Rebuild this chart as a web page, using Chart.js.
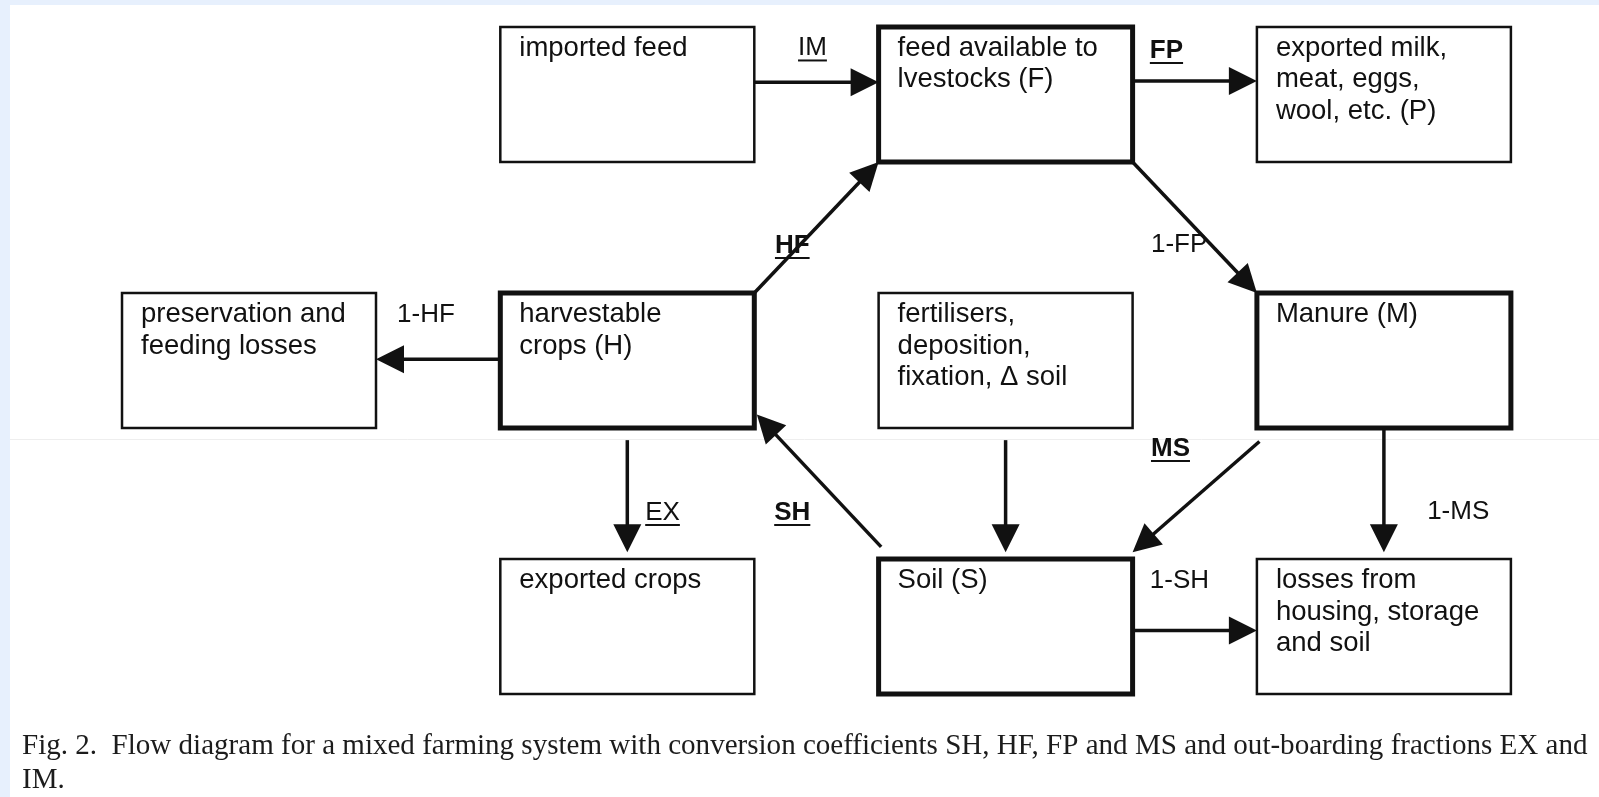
<!DOCTYPE html>
<html>
<head>
<meta charset="utf-8">
<title>Flow diagram for a mixed farming system</title>
<script src="https://cdn.jsdelivr.net/npm/chart.js@4.4.0/dist/chart.umd.min.js"></script>
<style>
    html, body { margin: 0; padding: 0; background: #e7f0fd; overflow: hidden; }
    #wrap { position: absolute; left: 10px; top: 5px; width: 1589px; height: 792px; background: #fff; }
    canvas { display: block; }
</style>
</head>
<body>
<div id="wrap"><canvas id="flowChart" width="1589" height="792"></canvas></div>
<script>
// Boxes of the diagram, placed on a grid (column / row)
const nodeLabels = [
    ['imported feed'],
    ['feed available to', 'lvestocks (F)'],
    ['exported milk,', 'meat, eggs,', 'wool, etc. (P)'],
    ['preservation and', 'feeding losses'],
    ['harvestable', 'crops (H)'],
    ['fertilisers,', 'deposition,', 'fixation, \u0394 soil'],
    ['Manure (M)'],
    ['exported crops'],
    ['Soil (S)'],
    ['losses from', 'housing, storage', 'and soil']
];
const nodeCols = [1, 2, 3, 0, 1, 2, 3, 1, 2, 3];
const nodeRows = [0, 0, 0, 1, 1, 1, 1, 2, 2, 2];
const poolNodes = [1, 4, 6, 8]; // F, H, M, S

// Flows between the boxes
const flowFrom   = [0, 1, 4, 1, 4, 4, 5, 6, 6, 8, 8];
const flowTo     = [1, 2, 1, 6, 3, 7, 8, 9, 8, 4, 9];
const flowLabels = ['IM', 'FP', 'HF', '1-FP', '1-HF', 'EX', '', '1-MS', 'MS', 'SH', '1-SH'];
const conversionCoefs = ['SH', 'HF', 'FP', 'MS'];
const outboardFractions = ['EX', 'IM'];

const captionLines = [
    'Fig. 2.  Flow diagram for a mixed farming system with conversion coefficients SH, HF, FP and MS and out-boarding fractions EX and',
    'IM.'
];

// Layout: where each arrow leaves / enters its box (fractions of the box)
const flowStart = [[1, 0.41], [1, 0.40], [1, 0], [1, 1], [0, 0.49], [0.5, 1.09], [0.5, 1.09], [0.5, 1], [0.01, 1.10], [0.01, -0.09], [1, 0.53]];
const flowEnd   = [[0, 0.41], [0, 0.40], [0, 1], [0, 0], [1, 0.49], [0.5, -0.05], [0.5, -0.05], [0.5, -0.05], [1, -0.05], [1.01, 0.9], [0, 0.53]];
// label anchors in grid units (left, baseline)
const labelAt = [[1.787, 0.107], [2.717, 0.117], [1.726, 0.850], [2.720, 0.846], [0.727, 1.109], [1.383, 1.853], null, [3.450, 1.850], [2.720, 1.613], [1.724, 1.853], [2.717, 2.109]];

const BOX_W = 0.6714;
const BOX_H = 0.5075;
const INK = '#111';
const SANS = '"Liberation Sans", Arial, sans-serif';

function drawArrow(ctx, x1, y1, x2, y2) {
    const ang = Math.atan2(y2 - y1, x2 - x1);
    const headLen = 28, headHalf = 14;
    ctx.lineWidth = 3.5;
    ctx.beginPath();
    ctx.moveTo(x1, y1);
    ctx.lineTo(x2 - Math.cos(ang) * headLen * 0.8, y2 - Math.sin(ang) * headLen * 0.8);
    ctx.stroke();
    ctx.beginPath();
    ctx.moveTo(x2, y2);
    ctx.lineTo(x2 - Math.cos(ang) * headLen - Math.sin(ang) * headHalf, y2 - Math.sin(ang) * headLen + Math.cos(ang) * headHalf);
    ctx.lineTo(x2 - Math.cos(ang) * headLen + Math.sin(ang) * headHalf, y2 - Math.sin(ang) * headLen - Math.cos(ang) * headHalf);
    ctx.closePath();
    ctx.fill();
}

const diagramPlugin = {
    id: 'diagram',
    afterDatasetsDraw(chart) {
        const ctx = chart.ctx;
        const xs = chart.scales.x, ys = chart.scales.y;
        const px = v => xs.getPixelForValue(v);
        const py = v => ys.getPixelForValue(v);
        const anchor = (i, f) => [px(nodeCols[i] + f[0] * BOX_W), py(nodeRows[i] + f[1] * BOX_H)];

        ctx.save();

        // faint scan seam across the page
        ctx.strokeStyle = '#eeeeee';
        ctx.lineWidth = 1;
        ctx.beginPath();
        ctx.moveTo(0, 434.5);
        ctx.lineTo(chart.width, 434.5);
        ctx.stroke();

        ctx.strokeStyle = INK;
        ctx.fillStyle = INK;

        // boxes + their texts
        nodeLabels.forEach((lines, i) => {
            const x0 = px(nodeCols[i]), x1 = px(nodeCols[i] + BOX_W);
            const y0 = py(nodeRows[i]), y1 = py(nodeRows[i] + BOX_H);
            ctx.lineWidth = poolNodes.includes(i) ? 5 : 2.5;
            ctx.strokeRect(x0, y0, x1 - x0, y1 - y0);
            ctx.font = '27.5px ' + SANS;
            ctx.textBaseline = 'alphabetic';
            ctx.textAlign = 'left';
            lines.forEach((t, k) => ctx.fillText(t, x0 + 19, y0 + 29 + k * 31.5));
        });

        // arrows
        flowFrom.forEach((from, i) => {
            const [sx, sy] = anchor(from, flowStart[i]);
            const [ex, ey] = anchor(flowTo[i], flowEnd[i]);
            drawArrow(ctx, sx, sy, ex, ey);
        });

        // flow labels
        flowLabels.forEach((lbl, i) => {
            if (!lbl || !labelAt[i]) return;
            const bold = conversionCoefs.includes(lbl);
            const under = bold || outboardFractions.includes(lbl);
            ctx.font = (bold ? 'bold ' : '') + '26px ' + SANS;
            const lx = px(labelAt[i][0]), ly = py(labelAt[i][1]);
            ctx.fillText(lbl, lx, ly);
            if (under) {
                const w = ctx.measureText(lbl).width;
                ctx.lineWidth = 2;
                ctx.beginPath();
                ctx.moveTo(lx, ly + 5);
                ctx.lineTo(lx + w, ly + 5);
                ctx.stroke();
            }
        });

        // caption, fitted to the page width
        ctx.font = '24px "Liberation Serif", "Times New Roman", serif';
        const size = 24 * 1566 / ctx.measureText(captionLines[0]).width;
        ctx.font = size.toFixed(2) + 'px "Liberation Serif", "Times New Roman", serif';
        ctx.fillStyle = '#1c1c1c';
        captionLines.forEach((t, k) => ctx.fillText(t, 12, 749 + k * 34));
        ctx.restore();
    }
};

const ctx = document.getElementById('flowChart').getContext('2d');
window.flowChart = new Chart(ctx, {
    type: 'scatter',
    data: {
        datasets: [{
            data: nodeCols.map((c, i) => ({ x: c + BOX_W / 2, y: nodeRows[i] + BOX_H / 2 })),
            pointRadius: 0
        }]
    },
    options: {
        responsive: false,
        animation: false,
        layout: { padding: 0 },
        plugins: {
            legend: { display: false },
            tooltip: { enabled: false }
        },
        scales: {
            x: { type: 'linear', min: -0.2961, max: 3.9043, display: false },
            y: { type: 'linear', min: -0.0827, max: 2.8947, reverse: true, display: false }
        }
    },
    plugins: [diagramPlugin]
});
</script>
</body>
</html>
